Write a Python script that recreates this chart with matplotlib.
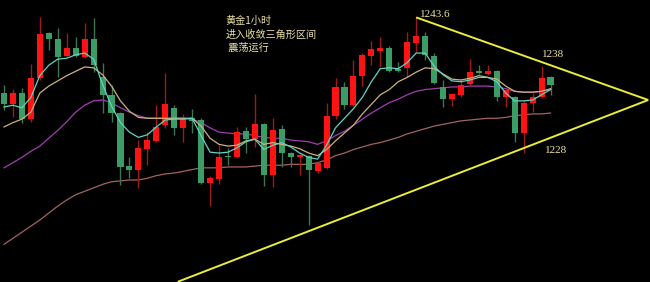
import matplotlib
matplotlib.use("Agg")
import matplotlib.pyplot as plt
import numpy as np

# Gold, 1-hour bars (red = up, green = down)
opens = [1234.9, 1233.6, 1234.9, 1231.9, 1236.6, 1241.8, 1241.1, 1239.2, 1240.1, 1239.0,
         1241.1, 1236.7, 1234.7, 1232.6, 1226.5, 1226.0, 1228.5, 1229.4, 1231.2, 1233.2,
         1230.9, 1232.0, 1231.8, 1224.6, 1225.0, 1227.6, 1227.5, 1230.5, 1229.6, 1231.3,
         1225.5, 1230.8, 1228.0, 1227.5, 1227.7, 1225.9, 1226.3, 1232.3, 1235.6, 1233.5,
         1236.9, 1239.2, 1239.7, 1240.1, 1237.7, 1237.8, 1240.7, 1241.5, 1239.2, 1235.6,
         1234.2, 1234.7, 1235.9, 1237.3, 1237.1, 1237.4, 1234.4, 1234.4, 1230.3, 1233.8,
         1234.4, 1236.7]
highs = [1235.8, 1235.4, 1235.5, 1238.2, 1243.6, 1241.9, 1242.4, 1241.8, 1241.3, 1243.0,
         1243.5, 1238.4, 1235.8, 1232.7, 1227.5, 1229.5, 1230.4, 1233.5, 1237.2, 1233.5,
         1232.5, 1233.1, 1232.0, 1225.4, 1228.9, 1228.6, 1231.0, 1231.0, 1234.8, 1231.5,
         1232.0, 1231.2, 1228.1, 1227.9, 1227.8, 1227.0, 1233.8, 1236.6, 1236.2, 1238.7,
         1239.5, 1240.9, 1241.3, 1240.3, 1238.5, 1241.9, 1243.6, 1241.9, 1239.5, 1236.4,
         1234.9, 1236.4, 1238.8, 1238.1, 1238.1, 1237.5, 1235.4, 1234.6, 1234.1, 1234.9,
         1238.0, 1236.9]
lows = [1233.0, 1232.1, 1231.5, 1231.6, 1236.4, 1239.9, 1236.7, 1239.0, 1239.0, 1238.9,
        1237.3, 1232.6, 1231.6, 1224.3, 1225.1, 1224.0, 1226.6, 1229.3, 1230.9, 1230.1,
        1229.3, 1230.3, 1224.4, 1221.9, 1224.4, 1226.6, 1227.4, 1228.0, 1228.7, 1224.2,
        1224.1, 1226.4, 1226.4, 1225.5, 1219.7, 1225.7, 1226.2, 1231.9, 1233.1, 1233.4,
        1235.7, 1238.1, 1237.9, 1237.3, 1237.3, 1236.7, 1239.6, 1238.7, 1235.9, 1233.3,
        1233.4, 1234.4, 1235.7, 1237.1, 1237.0, 1234.0, 1233.3, 1229.3, 1228.0, 1232.7,
        1234.3, 1234.7]
closes = [1233.6, 1234.9, 1231.9, 1236.6, 1241.7, 1241.1, 1239.0, 1240.1, 1239.2, 1241.1,
          1238.1, 1234.7, 1232.6, 1226.4, 1226.0, 1228.6, 1229.5, 1231.0, 1233.6, 1230.9,
          1232.0, 1231.7, 1224.6, 1225.1, 1227.5, 1227.5, 1230.4, 1229.6, 1231.3, 1225.5,
          1230.6, 1228.0, 1227.5, 1227.8, 1226.0, 1226.9, 1232.3, 1235.6, 1233.5, 1236.9,
          1239.3, 1240.0, 1240.1, 1237.4, 1237.4, 1240.8, 1241.5, 1239.3, 1236.1, 1234.2,
          1234.8, 1235.8, 1237.3, 1237.2, 1237.4, 1234.4, 1235.3, 1230.3, 1233.8, 1234.4,
          1236.6, 1235.8]

# Moving averages, one value per bar
ma_fast = [1233.3, 1233.5, 1233.2, 1234.4, 1236.9, 1238.1, 1238.8, 1238.9, 1239.3, 1239.5,
           1238.8, 1235.9, 1233.4, 1231.5, 1230.4, 1229.8, 1230.1, 1231.0, 1231.8, 1231.9,
           1231.9, 1232.0, 1230.0, 1228.1, 1228.0, 1228.1, 1228.6, 1229.3, 1229.6, 1228.4,
           1228.9, 1229.2, 1228.7, 1228.0, 1227.5, 1227.3, 1228.9, 1230.9, 1232.0, 1233.1,
           1234.4, 1236.2, 1237.7, 1237.8, 1237.7, 1238.4, 1239.5, 1239.5, 1238.0, 1237.0,
           1236.3, 1236.2, 1236.4, 1236.7, 1236.7, 1236.2, 1234.9, 1234.0, 1234.0, 1234.1,
           1234.7, 1235.3]
ma_mid = [1231.0, 1231.5, 1231.9, 1232.7, 1234.9, 1235.7, 1236.3, 1236.9, 1237.4, 1237.9,
          1237.8, 1237.0, 1235.7, 1234.0, 1232.8, 1232.1, 1232.0, 1232.0, 1232.0, 1232.0,
          1232.0, 1232.0, 1231.1, 1229.7, 1229.0, 1228.8, 1228.9, 1229.4, 1229.6, 1229.0,
          1229.2, 1229.0, 1228.8, 1228.5, 1228.0, 1227.7, 1228.4, 1229.4, 1230.3, 1231.2,
          1232.5, 1233.6, 1234.7, 1235.3, 1236.2, 1236.7, 1237.3, 1237.8, 1237.7, 1237.1,
          1236.5, 1236.4, 1236.6, 1236.9, 1236.7, 1236.5, 1235.7, 1235.1, 1235.0, 1235.0,
          1235.1, 1235.4]
ma_slow = [1226.3, 1226.9, 1227.5, 1228.2, 1228.8, 1229.7, 1230.6, 1231.6, 1232.7, 1233.5,
           1234.0, 1234.1, 1233.8, 1233.2, 1232.7, 1232.3, 1232.0, 1232.0, 1232.0, 1232.0,
           1232.0, 1231.9, 1231.5, 1230.9, 1230.4, 1230.3, 1230.2, 1230.2, 1230.0, 1229.8,
           1229.7, 1229.7, 1229.5, 1229.4, 1229.3, 1229.0, 1229.4, 1230.0, 1230.5, 1231.2,
           1231.9, 1232.6, 1233.2, 1233.8, 1234.2, 1234.7, 1235.1, 1235.3, 1235.4, 1235.5,
           1235.6, 1235.6, 1235.7, 1235.7, 1235.7, 1235.6, 1235.4, 1235.1, 1235.0, 1235.0,
           1235.1, 1235.3]
ma_long = [1217.5, 1218.2, 1218.9, 1219.6, 1220.3, 1221.1, 1221.9, 1222.6, 1223.2, 1223.6,
           1224.0, 1224.4, 1224.7, 1224.8, 1224.9, 1224.9, 1225.1, 1225.4, 1225.6, 1225.7,
           1225.9, 1226.1, 1226.3, 1226.3, 1226.3, 1226.4, 1226.4, 1226.4, 1226.5, 1226.6,
           1226.6, 1226.6, 1226.7, 1226.7, 1226.7, 1226.9, 1227.2, 1227.7, 1228.0, 1228.4,
           1228.7, 1229.0, 1229.2, 1229.5, 1229.8, 1230.2, 1230.5, 1230.8, 1231.1, 1231.3,
           1231.5, 1231.7, 1231.8, 1231.9, 1232.0, 1232.0, 1232.1, 1232.3, 1232.4, 1232.5,
           1232.5, 1232.6]

# Converging triangle: upper edge from the 1243.6 top, lower edge rising to the apex
apex_bar, apex_price = 71.9, 1234.1
top_bar, top_price = 46, 1243.6
low_edge_bar, low_edge_price = 19.4, 1213.2

notes = ["黄金1小时", "进入收敛三角形区间", " 震荡运行"]
level_labels = ["1243.6", "1238", "1228"]

UP, DOWN = "#ff1212", "#3c9c66"
UP_WICK, DOWN_WICK = "#a01818", "#3d7453"
TXT = "#ece4a2"

fig = plt.figure(figsize=(6.5, 2.82), dpi=100, facecolor="black")
ax = fig.add_axes([0, 0, 1, 1])
ax.set_facecolor("black")
ax.set_xlim(-0.446, 72.1)
ax.set_ylim(1213.17, 1245.6)
ax.axis("off")

o = np.array(opens); h = np.array(highs); l = np.array(lows); c = np.array(closes)
x = np.arange(len(o))
up = c >= o

# moving averages
ax.plot(x, ma_long, color="#a5625e", lw=0.9, zorder=1)
ax.plot(x, ma_slow, color="#a23db0", lw=0.9, zorder=1)
ax.plot(x, ma_mid, color="#cbb37c", lw=0.9, zorder=4)
ax.plot(x, ma_fast, color="#62d2c6", lw=0.9, zorder=4)

# candles
ax.vlines(x[up], l[up], h[up], color=UP_WICK, lw=1.0, zorder=2)
ax.vlines(x[~up], l[~up], h[~up], color=DOWN_WICK, lw=1.0, zorder=2)
body_lo = np.minimum(o, c)
body_h = np.maximum(np.abs(c - o), 0.18)
ax.bar(x[up], body_h[up], bottom=body_lo[up], width=0.68, color=UP, zorder=3, linewidth=0)
ax.bar(x[~up], body_h[~up], bottom=body_lo[~up], width=0.68, color=DOWN, zorder=3, linewidth=0)

# triangle
ax.plot([top_bar, apex_bar], [top_price, apex_price], color="#ecec3a", lw=1.4, zorder=5,
        solid_capstyle="butt")
ax.plot([low_edge_bar, apex_bar], [low_edge_price, apex_price], color="#ecec3a", lw=1.4,
        zorder=5, solid_capstyle="butt")

# notes
cjk = ["Noto Sans CJK SC", "DejaVu Sans"]
for txt, yy in zip(notes, [0.925, 0.877, 0.830]):
    ax.text(0.347, yy, txt, transform=ax.transAxes, color=TXT, fontsize=7.3,
            family=cjk, va="center", ha="left")

serif = ["Liberation Serif", "DejaVu Serif"]
ax.text(0.646, 0.947, level_labels[0], transform=ax.transAxes, color=TXT, fontsize=8,
        family=serif, va="center", ha="left")
ax.text(0.834, 0.805, level_labels[1], transform=ax.transAxes, color=TXT, fontsize=8,
        family=serif, va="center", ha="left")
ax.text(0.838, 0.468, level_labels[2], transform=ax.transAxes, color=TXT, fontsize=8,
        family=serif, va="center", ha="left")

fig.savefig("out.png", dpi=100, facecolor="black")
